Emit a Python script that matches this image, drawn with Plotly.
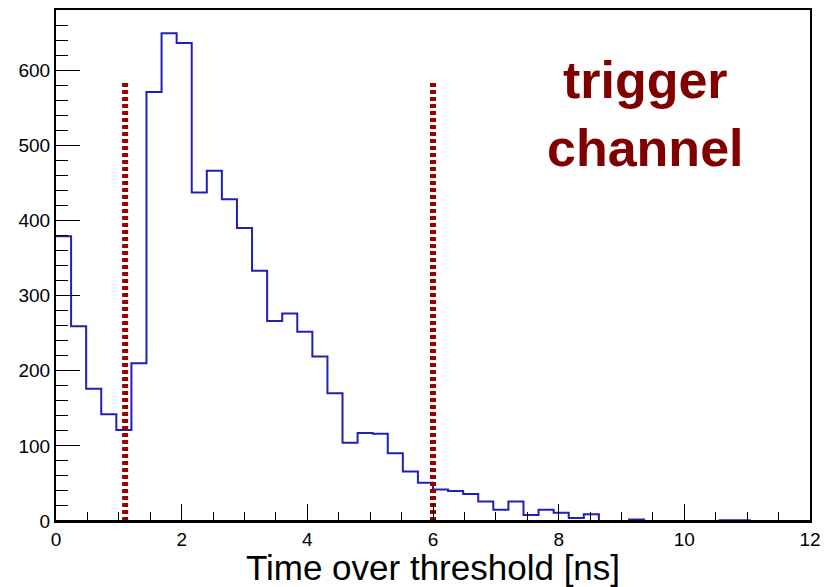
import numpy as np
import plotly.graph_objects as go

# Histogram: 50 bins of 0.24 ns from 0 to 12 ns
bin_lo, bin_hi, n_bins = 0.0, 12.0, 50
counts = [379, 259, 176, 142, 121, 210, 571, 649, 636, 437,
          466, 428, 390, 333, 266, 276, 252, 219, 170, 104,
          117, 116, 90, 66, 51, 42, 40, 36, 26, 15,
          26, 8, 15, 11, 4, 9, 0, 0, 2, 0,
          0, 0, 0, 0, 1, 1, 0, 0, 0, 0]

# Cut lines (ns) and their drawn height (counts)
cut_positions = [1.1, 6.0]
cut_height = 585

label_text = "trigger<br>channel"
x_title = "Time over threshold [ns]"

edges = np.linspace(bin_lo, bin_hi, n_bins + 1)
ys = list(counts) + [counts[-1]]

fig = go.Figure()
fig.add_trace(go.Scatter(
    x=edges, y=ys, mode="lines", line=dict(shape="hv", color="#2020b8", width=2),
    hoverinfo="skip", showlegend=False))

for c in cut_positions:
    fig.add_trace(go.Scatter(
        x=[c, c], y=[0, cut_height], mode="lines",
        line=dict(color="#990000", width=6, dash="4px,3px"),
        showlegend=False, hoverinfo="skip"))

# frame baseline drawn over the zero-level of the histogram
fig.add_shape(type="line", xref="paper", yref="y", x0=0, x1=1, y0=0, y1=0,
              line=dict(color="black", width=2), layer="above")

fig.add_annotation(
    x=9.38, y=541, xref="x", yref="y", text=label_text, showarrow=False,
    font=dict(family="Liberation Sans, Arial", size=52, color="#800000", weight="bold"),
    align="center", xanchor="center", yanchor="middle")

font_family = "Liberation Sans, Arial, Helvetica"
fig.update_layout(
    width=829, height=587,
    margin=dict(l=56, r=12, t=8, b=66),
    paper_bgcolor="white", plot_bgcolor="white",
    font=dict(family=font_family, color="black"),
)
fig.update_xaxes(
    range=[0, 12], showgrid=False, zeroline=False,
    showline=True, linecolor="black", linewidth=2, mirror=True,
    ticks="inside", ticklen=17, tickwidth=1, tickcolor="black",
    tick0=0, dtick=2, tickfont=dict(size=19, family=font_family),
    minor=dict(ticks="inside", ticklen=9, tickwidth=1, tickcolor="black", dtick=0.5),
    title=dict(text=x_title, font=dict(size=35, family=font_family), standoff=2),
)
fig.update_yaxes(
    range=[0, 680], showgrid=False, zeroline=False,
    showline=True, linecolor="black", linewidth=2, mirror=True,
    ticks="inside", ticklen=24, tickwidth=1, tickcolor="black",
    tick0=0, dtick=100, tickfont=dict(size=19, family=font_family),
    minor=dict(ticks="inside", ticklen=12, tickwidth=1, tickcolor="black", dtick=20),
)

fig.write_html("out.html")
